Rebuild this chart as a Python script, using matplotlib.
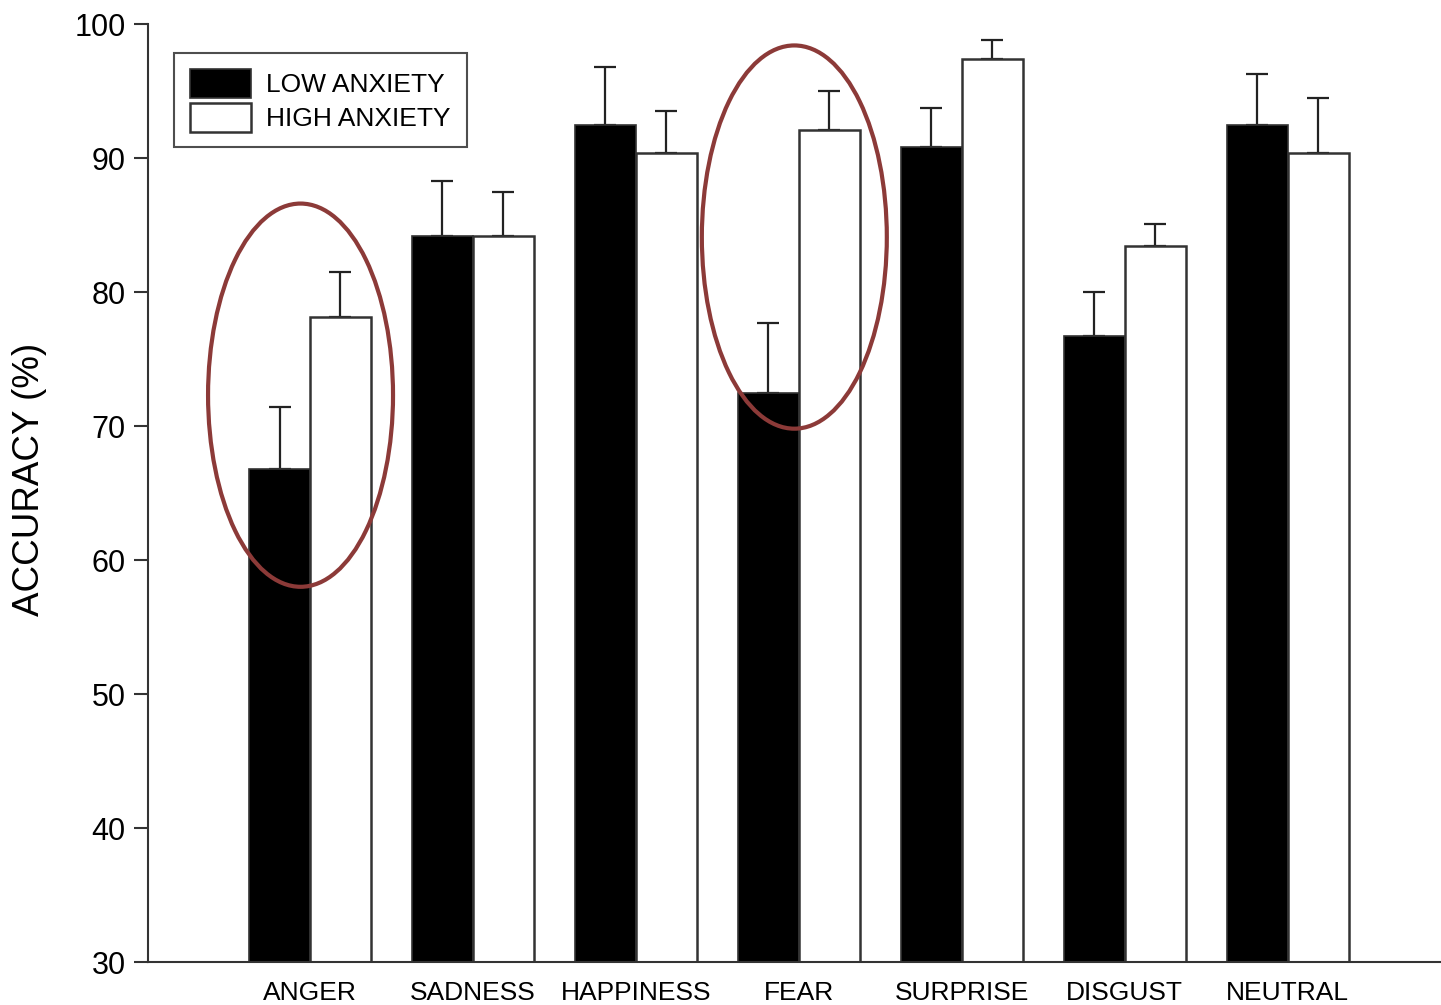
import matplotlib.pyplot as plt
from matplotlib.patches import Ellipse
import numpy as np

plt.rcParams['font.family'] = ['Liberation Sans', 'DejaVu Sans']

emotions = ["ANGER", "SADNESS", "HAPPINESS", "FEAR", "SURPRISE", "DISGUST", "NEUTRAL"]
low_anxiety = [66.8, 84.2, 92.5, 72.5, 90.8, 76.7, 92.5]
low_err = [4.6, 4.1, 4.3, 5.2, 2.9, 3.3, 3.8]
high_anxiety = [78.1, 84.2, 90.4, 92.1, 97.4, 83.4, 90.4]
high_err = [3.4, 3.3, 3.1, 2.9, 1.4, 1.7, 4.1]

# categories singled out with red rings (group index, value centre)
ringed = [(0, 72.3), (3, 84.1)]

fig = plt.figure(figsize=(14.41, 10.05), dpi=100)
ax = fig.add_axes([148 / 1441, 1 - 962 / 1005, 1 - 148 / 1441, (962 - 24) / 1005])

x = np.arange(len(emotions))
w = 0.374
zeros = np.zeros(len(emotions))

ax.bar(x - w / 2, low_anxiety, w, bottom=0, color="black", edgecolor="#333333",
       linewidth=1.2, label="LOW ANXIETY", zorder=2)
ax.bar(x + w / 2, high_anxiety, w, color="white", edgecolor="#333333",
       linewidth=1.8, label="HIGH ANXIETY", zorder=2)

ax.errorbar(x - w / 2, low_anxiety, yerr=[zeros, low_err], fmt="none",
            ecolor="#222222", elinewidth=1.6, capsize=8, capthick=1.6, zorder=1)
ax.errorbar(x + w / 2, high_anxiety, yerr=[zeros, high_err], fmt="none",
            ecolor="#222222", elinewidth=1.6, capsize=8, capthick=1.6, zorder=1)

for i, yc in ringed:
    ax.add_patch(Ellipse((i - 0.058 + (0.03 if i else 0), yc), 1.135, 28.6,
                         fill=False, edgecolor="#8c3a38", linewidth=3, zorder=5))

ax.set_xlim(-0.994, 6.94)
ax.set_ylim(30, 100)
ax.set_yticks(range(30, 101, 10))
ax.set_xticks(x)
ax.set_xticklabels(emotions, fontsize=19)
ax.tick_params(axis="x", length=0, pad=14)
ax.tick_params(axis="y", length=10, width=1.5, color="#333333", labelsize=22, pad=6)
ax.set_ylabel("ACCURACY (%)", fontsize=26.5)
ax.yaxis.set_label_coords(-0.078, 0.514)

for side in ["top", "right"]:
    ax.spines[side].set_visible(False)
for side in ["left", "bottom"]:
    ax.spines[side].set_linewidth(1.5)
    ax.spines[side].set_color("#333333")

leg = ax.legend(loc="upper left", bbox_to_anchor=(174 / 1441, 1 - 53 / 1005),
                bbox_transform=fig.transFigure, fontsize=19, frameon=True,
                fancybox=False, edgecolor="#222222", handlelength=2.3,
                handleheight=1.3, handletextpad=0.6, borderpad=0.6,
                labelspacing=0.2, borderaxespad=0)
leg.get_frame().set_linewidth(1.5)

fig.savefig("out.png", dpi=100)
